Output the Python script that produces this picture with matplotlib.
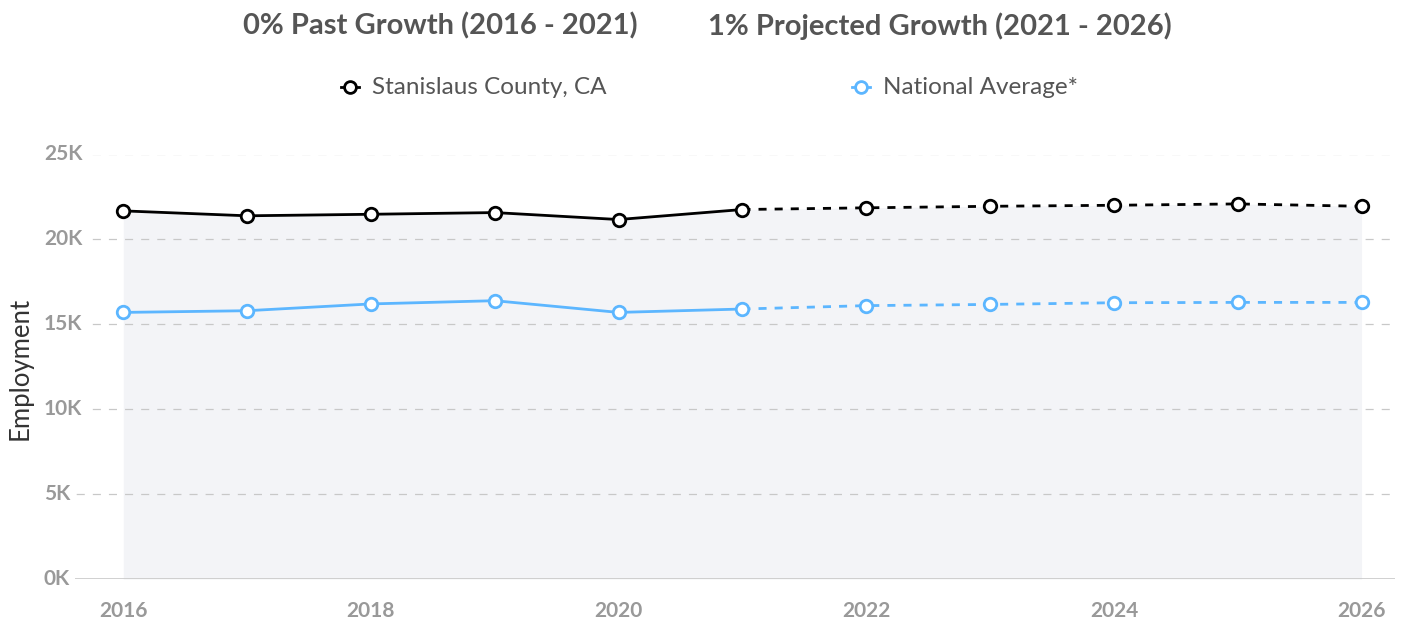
import matplotlib
matplotlib.use("Agg")
import matplotlib.pyplot as plt
from matplotlib.lines import Line2D

plt.rcParams["font.family"] = ["Lato", "DejaVu Sans"]
plt.rcParams["lines.scale_dashes"] = False

# Employment data
years = [2016, 2017, 2018, 2019, 2020, 2021, 2022, 2023, 2024, 2025, 2026]
county = [21680, 21390, 21480, 21580, 21170, 21760, 21860, 21950, 22010, 22090, 21950]
national = [15700, 15800, 16200, 16390, 15700, 15900, 16100, 16170, 16270, 16290, 16290]
last_actual = 2021

y_ticks = [0, 5000, 10000, 15000, 20000, 25000]
y_tick_labels = ["0K", "5K", "10K", "15K", "20K", "25K"]
x_ticks = [2016, 2018, 2020, 2022, 2024, 2026]

title_past = "0% Past Growth (2016 - 2021)"
title_proj = "1% Projected Growth (2021 - 2026)"
county_name = "Stanislaus County, CA"
national_name = "National Average*"

BLACK = "#000000"
BLUE = "#5cb6ff"
FILL = "#f3f4f7"
GRID = "#c8c8c8"
TICK = "#999999"
TEXT = "#555555"

W, H = 1402, 624
fig = plt.figure(figsize=(W / 100, H / 100), dpi=100)


def fx(px):
    return px / W


def fy(py):
    return 1 - py / H


ax = fig.add_axes([fx(44), fy(579), fx(1395) - fx(44), fy(154.5) - fy(579)])
ax.set_xlim(2015.36, 2026.27)
ax.set_ylim(0, 25000)
ax.axis("off")

# shaded area under the county line
ax.fill_between(years, 0, county, color=FILL, zorder=1, linewidth=0)

# horizontal grid
for v in y_ticks[1:]:
    ax.axhline(v, color=GRID, lw=0.9, dashes=(5.8, 5.8), zorder=2)
ax.axhline(0, color=GRID, lw=1.2, zorder=2)

ytrans = ax.get_yaxis_transform()
for v, lab in zip(y_ticks, y_tick_labels):
    ax.text(0, v, lab, transform=ytrans, ha="left", va="center",
            fontsize=15, fontweight="bold", color=TICK, zorder=3,
            bbox=dict(boxstyle="square,pad=0.24", fc="white", ec="none"))

xtrans = ax.get_xaxis_transform()
for x in x_ticks:
    ax.text(x, -0.076, str(x), transform=xtrans, ha="center", va="center",
            fontsize=15, fontweight="bold", color=TICK)

# series: actual (solid) and projected (dashed)
split = years.index(last_actual)
for vals, col in ((county, BLACK), (national, BLUE)):
    ax.plot(years[:split + 1], vals[:split + 1], color=col, lw=2.0, zorder=4,
            solid_capstyle="round")
    ax.plot(years[split:], vals[split:], color=col, lw=2.0, dashes=(5.8, 5.8),
            zorder=4)
    ax.plot(years, vals, linestyle="none", marker="o", ms=9, mfc="white",
            mec=col, mew=2.0, zorder=5, clip_on=False)

# y axis title
fig.text(fx(20), fy(368), "Employment", rotation=90, ha="center", va="center",
         fontsize=18.5, color="#333333")

# headline
fig.text(fx(440), fy(26), title_past, ha="center", va="center", fontsize=21,
         fontweight="bold", color=TEXT)
fig.text(fx(940), fy(26), title_proj, ha="center", va="center", fontsize=21,
         fontweight="bold", color=TEXT)

# legend
for cx, name, col in ((350, county_name, BLACK), (861, national_name, BLUE)):
    fig.add_artist(Line2D([fx(cx - 9), fx(cx + 9)], [fy(87), fy(87)],
                          transform=fig.transFigure, color=col, lw=2.0))
    fig.add_artist(Line2D([fx(cx)], [fy(87)], transform=fig.transFigure,
                          marker="o", ms=8.5, mfc="white", mec=col, mew=2.0))
    fig.text(fx(cx + 22), fy(87.5), name, ha="left", va="center",
             fontsize=17.5, color=TEXT)

fig.savefig("out.png", dpi=100)
